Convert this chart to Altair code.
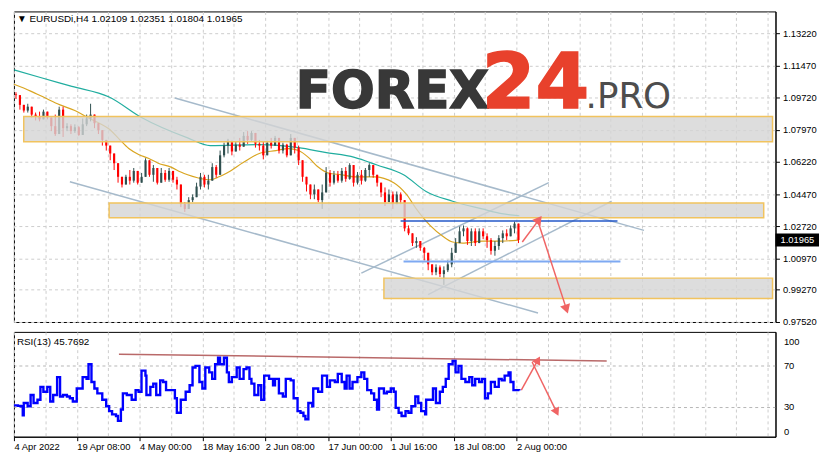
import math
import altair as alt
import pandas as pd

# ---------------- data ----------------
header_text = "\u25bc EURUSDi,H4  1.02109 1.02351 1.01804 1.01965"
rsi_header = "RSI(13) 45.7692"
current_price = 1.01965
current_label = "1.01965"

first_open = 1.0990
closes = [
    1.0986, 1.0933, 1.0902, 1.0923, 1.0880, 1.0870, 1.0854, 1.0896, 1.0864, 1.0817,
    1.0774, 1.0907, 1.0806, 1.0817, 1.0790, 1.0811, 1.0769, 1.0827, 1.0859, 1.0880,
    1.0833, 1.0795, 1.0742, 1.0711, 1.0668, 1.0615, 1.0541, 1.0499, 1.0541, 1.0520,
    1.0573, 1.0509, 1.0541, 1.0631, 1.0552, 1.0589, 1.0509, 1.0562, 1.0525, 1.0573,
    1.0525, 1.0499, 1.0392, 1.0366, 1.0414, 1.0430, 1.0488, 1.0541, 1.0499, 1.0520,
    1.0594, 1.0552, 1.0658, 1.0711, 1.0737, 1.0679, 1.0716, 1.0705, 1.0764, 1.0742,
    1.0780, 1.0721, 1.0711, 1.0658, 1.0727, 1.0711, 1.0753, 1.0684, 1.0716, 1.0658,
    1.0753, 1.0700, 1.0631, 1.0541, 1.0499, 1.0445, 1.0472, 1.0414, 1.0456, 1.0562,
    1.0509, 1.0552, 1.0520, 1.0573, 1.0530, 1.0605, 1.0509, 1.0552, 1.0520, 1.0578,
    1.0605, 1.0552, 1.0509, 1.0456, 1.0403, 1.0445, 1.0392, 1.0445, 1.0414, 1.0260,
    1.0233, 1.0180, 1.0191, 1.0154, 1.0127, 1.0064, 1.0021, 1.0048, 1.0011, 1.0032,
    1.0064, 1.0127, 1.0180, 1.0244, 1.0260, 1.0191, 1.0244, 1.0180, 1.0244, 1.0217,
    1.0196, 1.0138, 1.0164, 1.0207, 1.0233, 1.0217, 1.0260, 1.0286, 1.0197,
]
highs = [
    1.1002, 1.0976, 1.0923, 1.0939, 1.0907, 1.0891, 1.0896, 1.0907, 1.0891, 1.0859,
    1.0880, 1.0923, 1.0923, 1.0833, 1.0827, 1.0827, 1.0817, 1.0859, 1.0880, 1.0939,
    1.0870, 1.0827, 1.0774, 1.0732, 1.0695, 1.0647, 1.0589, 1.0541, 1.0552, 1.0578,
    1.0589, 1.0567, 1.0562, 1.0642, 1.0615, 1.0605, 1.0578, 1.0589, 1.0578, 1.0589,
    1.0562, 1.0541, 1.0499, 1.0403, 1.0430, 1.0445, 1.0509, 1.0562, 1.0552, 1.0552,
    1.0615, 1.0605, 1.0684, 1.0727, 1.0748, 1.0732, 1.0732, 1.0753, 1.0785, 1.0790,
    1.0790, 1.0753, 1.0742, 1.0732, 1.0737, 1.0753, 1.0764, 1.0727, 1.0727, 1.0721,
    1.0774, 1.0753, 1.0711, 1.0631, 1.0541, 1.0488, 1.0499, 1.0472, 1.0499, 1.0594,
    1.0578, 1.0573, 1.0573, 1.0589, 1.0594, 1.0615, 1.0605, 1.0567, 1.0578, 1.0589,
    1.0615, 1.0605, 1.0552, 1.0499, 1.0483, 1.0472, 1.0461, 1.0461, 1.0456, 1.0403,
    1.0276, 1.0233, 1.0212, 1.0191, 1.0159, 1.0101, 1.0064, 1.0064, 1.0058, 1.0053,
    1.0085, 1.0154, 1.0207, 1.0270, 1.0276, 1.0265, 1.0260, 1.0260, 1.0260, 1.0260,
    1.0233, 1.0207, 1.0191, 1.0223, 1.0249, 1.0255, 1.0276, 1.0297, 1.0255,
]
lows = [
    1.0965, 1.0907, 1.0891, 1.0891, 1.0864, 1.0848, 1.0843, 1.0859, 1.0854, 1.0790,
    1.0764, 1.0859, 1.0758, 1.0790, 1.0774, 1.0780, 1.0764, 1.0774, 1.0817, 1.0843,
    1.0806, 1.0774, 1.0711, 1.0684, 1.0631, 1.0578, 1.0509, 1.0483, 1.0499, 1.0499,
    1.0509, 1.0499, 1.0509, 1.0541, 1.0541, 1.0514, 1.0499, 1.0509, 1.0514, 1.0514,
    1.0509, 1.0472, 1.0376, 1.0350, 1.0366, 1.0403, 1.0435, 1.0472, 1.0483, 1.0472,
    1.0525, 1.0536, 1.0552, 1.0647, 1.0668, 1.0658, 1.0684, 1.0684, 1.0711, 1.0721,
    1.0737, 1.0700, 1.0684, 1.0636, 1.0658, 1.0695, 1.0711, 1.0668, 1.0668, 1.0647,
    1.0684, 1.0668, 1.0605, 1.0514, 1.0461, 1.0419, 1.0419, 1.0403, 1.0366, 1.0472,
    1.0488, 1.0499, 1.0509, 1.0509, 1.0514, 1.0525, 1.0488, 1.0499, 1.0499, 1.0514,
    1.0541, 1.0536, 1.0488, 1.0430, 1.0382, 1.0403, 1.0366, 1.0403, 1.0392, 1.0244,
    1.0223, 1.0164, 1.0154, 1.0138, 1.0085, 1.0032, 1.0005, 1.0005, 0.9995, 0.9952,
    1.0022, 1.0048, 1.0127, 1.0180, 1.0217, 1.0170, 1.0164, 1.0164, 1.0196, 1.0201,
    1.0154, 1.0117, 1.0111, 1.0143, 1.0180, 1.0196, 1.0217, 1.0233, 1.0180,
]
bars_per_candle = 4

ma_fast_bar = [0, 17, 32, 47, 62, 77, 87, 97, 107, 117, 127, 137, 147, 160, 170, 177, 187,
               200, 209, 217, 234, 250, 267, 280, 290, 300, 310, 320, 334, 347, 367, 387,
               400, 410, 424, 437, 447, 457, 477, 497, 514]
ma_fast_val = [1.1045, 1.1008, 1.0970, 1.0933, 1.0902, 1.0859, 1.0833, 1.0801, 1.0748,
               1.0695, 1.0663, 1.0642, 1.0615, 1.0594, 1.0567, 1.0552, 1.0536, 1.0525,
               1.0541, 1.0562, 1.0620, 1.0668, 1.0684, 1.0695, 1.0684, 1.0647, 1.0594,
               1.0562, 1.0552, 1.0541, 1.0541, 1.0509, 1.0445, 1.0366, 1.0276, 1.0217,
               1.0186, 1.0180, 1.0191, 1.0191, 1.0196]
ma_slow_bar = [0, 27, 59, 97, 130, 177, 200, 250, 290, 317, 347, 370, 397, 420, 447, 477, 497, 515]
ma_slow_val = [1.1124, 1.1082, 1.1034, 1.0976, 1.0864, 1.0753, 1.0711, 1.0716, 1.0700,
               1.0674, 1.0647, 1.0605, 1.0552, 1.0461, 1.0408, 1.0366, 1.0340, 1.0329]

rsi_bar = [0, 4, 7, 9, 10, 14, 17, 20, 24, 27, 30, 34, 37, 40, 44, 47, 50, 54, 57, 60, 64, 67,
           70, 74, 76, 79, 82, 85, 90, 94, 97, 100, 104, 106, 109, 111, 115, 120, 124, 127,
           130, 134, 135, 139, 142, 145, 149, 152, 155, 160, 164, 166, 170, 175, 179, 182,
           185, 189, 192, 195, 199, 202, 205, 208, 210, 214, 217, 219, 222, 227, 230, 234,
           237, 240, 242, 245, 249, 252, 255, 260, 264, 266, 270, 274, 277, 282, 285, 289,
           292, 295, 297, 300, 304, 305, 310, 314, 319, 322, 327, 330, 334, 337, 339, 342,
           345, 350, 354, 357, 360, 364, 367, 370, 372, 377, 380, 384, 387, 389, 392, 395,
           399, 402, 405, 409, 412, 415, 419, 420, 425, 427, 430, 434, 437, 440, 443, 447,
           450, 453, 456, 460, 464, 467, 470, 474, 477, 480, 483, 486, 490, 494, 497, 500,
           504, 506, 509, 515]
rsi_val = [31.5, 31.0, 30.6, 21.9, 33.7, 30.6, 41.4, 33.7, 36.8, 49.2, 44.5, 49.2, 35.2, 41.4,
           58.5, 39.9, 41.4, 39.9, 38.3, 35.2, 47.6, 47.6, 58.5, 56.9, 70.9, 53.8, 47.6, 43.0,
           36.8, 30.6, 25.9, 22.8, 21.3, 16.6, 27.5, 43.0, 41.4, 36.8, 46.1, 44.5, 64.7, 60.0,
           41.4, 49.2, 52.3, 41.4, 55.4, 53.8, 46.1, 46.1, 38.3, 24.4, 36.8, 44.5, 50.7, 67.8,
           69.3, 53.8, 47.6, 67.8, 63.1, 56.9, 70.9, 77.1, 70.9, 77.1, 63.1, 53.8, 58.5, 67.8,
           56.9, 66.2, 67.8, 56.9, 52.3, 41.4, 50.7, 36.8, 60.0, 56.9, 50.7, 56.9, 43.0, 39.9,
           56.9, 55.4, 38.3, 25.9, 24.4, 21.3, 18.2, 33.7, 30.6, 47.6, 44.5, 60.0, 49.2, 55.4,
           53.8, 61.6, 53.8, 47.6, 60.0, 47.6, 53.8, 58.5, 63.1, 56.9, 46.1, 43.0, 36.8, 27.5,
           47.6, 43.0, 44.5, 47.6, 44.5, 29.0, 24.4, 21.3, 25.9, 24.4, 30.6, 39.9, 33.7, 25.9,
           22.8, 36.8, 36.8, 47.6, 33.7, 44.5, 49.2, 56.9, 70.9, 74.0, 63.1, 69.3, 56.9, 53.8,
           58.5, 50.7, 56.9, 53.8, 56.9, 38.3, 43.0, 53.8, 49.2, 56.9, 55.4, 60.0, 63.1, 53.8,
           46.1, 45.8]

zone_x1 = [10, 97, 377]
zone_x2 = [773, 764, 773]
zone_top = [1.0870, 1.0398, 0.9989]
zone_bot = [1.0732, 1.0318, 0.9878]

trend_x1 = [164, 57, 354, 422]
trend_p1 = [1.0970, 1.0514, 1.0016, 0.9899]
trend_x2 = [642, 534, 545, 609]
trend_p2 = [1.0249, 0.9799, 1.0509, 1.0408]

resist_x = [394, 615]
resist_p = 1.0300
support_x = [397, 618]
support_p = 1.0080

arrow_x1 = [518, 534]
arrow_p1 = [1.0186, 1.0297]
arrow_x2 = [535, 563]
arrow_p2 = [1.0308, 0.9820]

rsi_arrow_x1 = [517, 528]
rsi_arrow_v1 = [46.0, 73.0]
rsi_arrow_x2 = [534, 553]
rsi_arrow_v2 = [75.0, 25.0]

div_x = [107, 604]
div_v = [80.5, 74.0]

price_ticks = [1.13220, 1.11470, 1.09720, 1.07970, 1.06220, 1.04470, 1.02720, 1.00970, 0.99270, 0.97520]
rsi_ticks = [6.7, 30, 70, 92.9]
tick_bars = [0, 64, 128, 192, 256, 320, 384, 448, 512]
tick_labels = ["4 Apr 2022", "19 Apr 08:00", "4 May 00:00", "18 May 16:00", "2 Jun 08:00",
               "17 Jun 00:00", "1 Jul 16:00", "18 Jul 08:00", "2 Aug 00:00"]

# ---------------- layout ----------------
W = 770
H_MAIN = 314
H_RSI = 106
X_DOM = [0, 776]
Y_DOM = [0.9750, 1.1442]
R_DOM = [1.4, 101.9]

xs = alt.Scale(domain=X_DOM, nice=False, zero=False)
ys = alt.Scale(domain=Y_DOM, nice=False, zero=False)
rs = alt.Scale(domain=R_DOM, nice=False, zero=False)

grid_x = list(range(0, 777, 32))
tb = "[" + ",".join(str(v) for v in tick_bars) + "]"
tl = "[" + ",".join("'" + s + "'" for s in tick_labels) + "]"
label_expr = f"indexof({tb}, datum.value) >= 0 ? {tl}[indexof({tb}, datum.value)] : ''"
tick_test = f"indexof({tb}, datum.value) >= 0"

GRID = "#cccccc"
ax_x_main = alt.Axis(values=grid_x, labels=False, ticks=False, domain=False, title=None,
                     grid=True, gridDash=[3, 3], gridColor=GRID)
ax_y_main = alt.Axis(orient="right", values=price_ticks, format=".5f", title=None,
                     grid=True, gridDash=[3, 3], gridColor=GRID, tickSize=4,
                     tickColor="black", domainColor="black", labelPadding=3)
ax_x_rsi = alt.Axis(values=grid_x, labelExpr=label_expr, title=None, grid=True,
                    gridDash=[3, 3], gridColor=GRID, tickSize=4, tickColor="black",
                    tickOpacity={"condition": {"test": tick_test, "value": 1}, "value": 0},
                    domainColor="black", labelAlign="left", labelFlush=False,
                    labelOverlap=False, labelBound=False, labelPadding=1)
ax_y_rsi = alt.Axis(orient="right", values=rsi_ticks, title=None,
                    labelExpr="datum.value > 90 ? '100' : (datum.value < 10 ? '0' : format(datum.value, 'd'))",
                    grid=True, gridDash=[3, 3], gridColor="#b5b5b5",
                    gridOpacity={"condition": {"test": "datum.value == 30 || datum.value == 70", "value": 1}, "value": 0},
                    tickOpacity=0, domainColor="black", labelPadding=3)


def X(f):
    return alt.X(f"{f}:Q", scale=xs, axis=ax_x_main)


def Y(f):
    return alt.Y(f"{f}:Q", scale=ys, axis=ax_y_main)


def XR(f):
    return alt.X(f"{f}:Q", scale=xs, axis=ax_x_rsi)


def YR(f):
    return alt.Y(f"{f}:Q", scale=rs, axis=ax_y_rsi)


px_bar = W / (X_DOM[1] - X_DOM[0])
px_price = H_MAIN / (Y_DOM[1] - Y_DOM[0])
px_rsi = H_RSI / (R_DOM[1] - R_DOM[0])


def heading(x1, y1, x2, y2, py):
    return math.degrees(math.atan2((x2 - x1) * px_bar, (y2 - y1) * py)) % 360

# ---------------- candles ----------------
rows = []
prev = first_open
for i, (c, h, l) in enumerate(zip(closes, highs, lows)):
    o = prev
    b = i * bars_per_candle
    rows.append({"x0": b + 1.0, "x1": b + 3.2, "xm": b + 2.1, "o": o, "c": c,
                 "hi": max(o, c, h), "lo": min(o, c, l), "dir": "up" if c >= o else "down"})
    prev = c
candles = pd.DataFrame(rows)
ccol = alt.Color("dir:N", scale=alt.Scale(domain=["up", "down"], range=["#2f4f4f", "#ff0000"]), legend=None)

wicks = alt.Chart(candles).mark_rule(strokeWidth=1).encode(x=X("xm"), y=Y("lo"), y2="hi", color=ccol)
bodies = alt.Chart(candles).mark_rect().encode(x=X("x0"), x2="x1", y=Y("o"), y2="c", color=ccol)

fast = alt.Chart(pd.DataFrame({"b": ma_fast_bar, "v": ma_fast_val})).mark_line(
    color="#d9a520", strokeWidth=1.2, interpolate="monotone").encode(x=X("b"), y=Y("v"))
slow = alt.Chart(pd.DataFrame({"b": ma_slow_bar, "v": ma_slow_val})).mark_line(
    color="#20ad9f", strokeWidth=1.2, interpolate="monotone").encode(x=X("b"), y=Y("v"))

trend = alt.Chart(pd.DataFrame({"x1": trend_x1, "p1": trend_p1, "x2": trend_x2, "p2": trend_p2})).mark_rule(
    color="#a6bacb", strokeWidth=1.5).encode(x=X("x1"), x2="x2", y=Y("p1"), y2="p2")

zones = alt.Chart(pd.DataFrame({"x1": zone_x1, "x2": zone_x2, "t": zone_top, "b": zone_bot})).mark_rect(
    fill="#d4d4d4", fillOpacity=0.8, stroke="#f1c35e", strokeWidth=1.5).encode(
    x=X("x1"), x2="x2", y=Y("t"), y2="b")

resist = alt.Chart(pd.DataFrame({"x1": [resist_x[0]], "x2": [resist_x[1]], "p": [resist_p]})).mark_rule(
    color="#2458c8", strokeWidth=1.5).encode(x=X("x1"), x2="x2", y=Y("p"))
support = alt.Chart(pd.DataFrame({"x1": [support_x[0]], "x2": [support_x[1]], "p": [support_p]})).mark_rule(
    color="#7ea9f2", strokeWidth=2).encode(x=X("x1"), x2="x2", y=Y("p"))

arr = pd.DataFrame({"x1": arrow_x1, "p1": arrow_p1, "x2": arrow_x2, "p2": arrow_p2})
arr["ang"] = [heading(a, b, c, d, px_price) for a, b, c, d in zip(arrow_x1, arrow_p1, arrow_x2, arrow_p2)]
ARROW = "#f06464"
arrow_lines = alt.Chart(arr).mark_rule(color=ARROW, strokeWidth=1.5).encode(x=X("x1"), x2="x2", y=Y("p1"), y2="p2")
arrow_heads = alt.Chart(arr).mark_point(shape="triangle-up", filled=True, color=ARROW, size=110, opacity=1).encode(
    x=X("x2"), y=Y("p2"), angle=alt.Angle("ang:Q", scale=None))


def txt(s, x, y, **kw):
    return alt.Chart(pd.DataFrame({"t": [s]})).mark_text(**kw).encode(
        x=alt.value(x), y=alt.value(y), text="t:N")


logo1 = txt("FOREX", 285, 98, font="DejaVu Sans", fontWeight="bold", fontSize=52, color="#383838",
            stroke="#383838", strokeWidth=1.6, align="left", baseline="alphabetic")
logo2 = txt("24", 473, 98, font="DejaVu Sans", fontWeight="bold", fontSize=78, color="#e8412c",
            stroke="#e8412c", strokeWidth=1.6, align="left", baseline="alphabetic")
logo3 = txt(".PRO", 578, 98, font="DejaVu Sans", fontSize=36, color="#4d4d4d",
            align="left", baseline="alphabetic")
head = txt(header_text, 3, 11, font="Liberation Sans", fontSize=10, color="black",
           align="left", baseline="alphabetic")

cur = pd.DataFrame({"p": [current_price], "t": [current_label]})
cur_box = alt.Chart(cur).mark_point(shape="M-1,-0.3L1,-0.3L1,0.3L-1,0.3Z", filled=True, color="black",
                                    size=1936, opacity=1).encode(x=alt.value(W + 22), y=Y("p"))
cur_txt = alt.Chart(cur).mark_text(align="left", baseline="middle", color="white", font="Liberation Sans",
                                   fontSize=9.5).encode(x=alt.value(W + 5), y=Y("p"), text="t:N")

main = alt.layer(trend, fast, slow, wicks, bodies, zones, resist, support, arrow_lines, arrow_heads,
                 logo1, logo2, logo3, head, cur_box, cur_txt).properties(width=W, height=H_MAIN)

# ---------------- RSI ----------------
rsi_df = pd.DataFrame({"b": rsi_bar, "v": rsi_val})
rsi_line = alt.Chart(rsi_df).mark_line(color="#0000ff", strokeWidth=2.4, interpolate="step-after").encode(
    x=XR("b"), y=YR("v"))
div_line = alt.Chart(pd.DataFrame({"x1": [div_x[0]], "x2": [div_x[1]], "v1": [div_v[0]], "v2": [div_v[1]]})).mark_rule(
    color="#a84444", strokeWidth=1.5, opacity=0.8).encode(x=XR("x1"), x2="x2", y=YR("v1"), y2="v2")
rarr = pd.DataFrame({"x1": rsi_arrow_x1, "v1": rsi_arrow_v1, "x2": rsi_arrow_x2, "v2": rsi_arrow_v2})
rarr["ang"] = [heading(a, b, c, d, px_rsi) for a, b, c, d in zip(rsi_arrow_x1, rsi_arrow_v1, rsi_arrow_x2, rsi_arrow_v2)]
rarrow_lines = alt.Chart(rarr).mark_rule(color=ARROW, strokeWidth=1.5).encode(x=XR("x1"), x2="x2", y=YR("v1"), y2="v2")
rarrow_heads = alt.Chart(rarr).mark_point(shape="triangle-up", filled=True, color=ARROW, size=90, opacity=1).encode(
    x=XR("x2"), y=YR("v2"), angle=alt.Angle("ang:Q", scale=None))
rhead = txt(rsi_header, 3, 13, font="Liberation Sans", fontSize=10, color="black",
            align="left", baseline="alphabetic")

rsi = alt.layer(div_line, rsi_line, rarrow_lines, rarrow_heads, rhead).properties(width=W, height=H_RSI)

chart = alt.vconcat(main, rsi, spacing=4, padding=0, background="white").configure_view(
    stroke="black", strokeWidth=1).configure_axis(
    labelFont="Liberation Sans", labelFontSize=9.5, labelColor="black")

chart.save("out.html", embed_options={"renderer": "svg", "actions": False})
